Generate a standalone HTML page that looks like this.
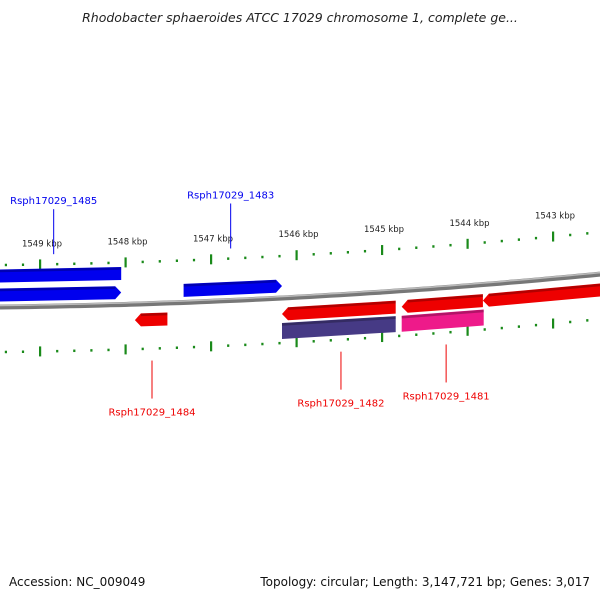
<!DOCTYPE html>
<html><head><meta charset="utf-8"><style>
body{margin:0;background:#fff;width:600px;height:600px;overflow:hidden;font-family:"DejaVu Sans","Liberation Sans",sans-serif}
</style></head><body>
<svg id="c" width="600" height="600" xmlns="http://www.w3.org/2000/svg">
<text x="300" y="22" text-anchor="middle" font-size="12.5" font-style="italic" fill="#222" font-family="DejaVu Sans, sans-serif">Rhodobacter sphaeroides ATCC 17029 chromosome 1, complete ge...</text>
<text x="9" y="586" font-size="12" fill="#111" font-family="DejaVu Sans, sans-serif">Accession: NC_009049</text>
<text x="590" y="586" text-anchor="end" font-size="12" fill="#111" font-family="DejaVu Sans, sans-serif">Topology: circular; Length: 3,147,721 bp; Genes: 3,017</text>
</svg>
<script>
const tickKbp=[1549,1548,1547,1546,1545,1544,1543];
const geneNames=["Rsph17029_1485a","Rsph17029_1485","Rsph17029_1483","Rsph17029_1484","Rsph17029_1482","Rsph17029_1482b","Rsph17029_1481","Rsph17029_1481b","Rsph17029_1480"];
const geneStart=[1549.47,1549.47,1547.32,1547.89,1546.17,1546.17,1544.77,1544.77,1543.82];
const geneEnd=[1548.05,1548.05,1546.17,1547.51,1544.84,1544.84,1543.82,1543.81,1542.00];
const geneStrand=[0,1,1,-1,-1,0,-1,0,-1];
const geneLane=[-31,-12,-12,16,16,33,16,33,16];
const geneColor=["#0000ee","#0000ee","#0000ee","#ee0000","#ee0000","#463a85","#ee0000","#ee1a8a","#ee0000"];
const labels=[["Rsph17029_1485",1548.84,-1,"#0000ee"],["Rsph17029_1483",1546.77,-1,"#0000ee"],["Rsph17029_1484",1547.69,1,"#ee0000"],["Rsph17029_1482",1545.48,1,"#ee0000"],["Rsph17029_1481",1544.25,1,"#ee0000"]];
const svg=document.getElementById('c');const NS="http://www.w3.org/2000/svg";
const X=k=>40+(1549-k)*85.5;
const Y=x=>307-0.01167*x-0.000072*x*x;
function mk(t,a){const e=document.createElementNS(NS,t);for(const k in a)e.setAttribute(k,a[k]);svg.appendChild(e);return e;}
let d="";for(let x=0;x<=600;x+=10)d+=(x?"L":"M")+x+" "+Y(x).toFixed(1);
let bb=mk("path",{d:d,stroke:"#777",fill:"none","stroke-width":5});


let bb2=mk("path",{d:d,stroke:"#bbb",fill:"none","stroke-width":1.5,transform:"translate(0,-1.5)"});


[-42,45].forEach(off=>{
 for(let i=-3;i<=40;i++){
  const k=1549.6-i*0.2;
  const x=X(k);if(x<0||x>600)continue;const y=Y(x)+off;
  const major=Math.abs(k-Math.round(k))<0.01;
  const r=mk("rect",{x:x-1,y:major?y-5:y-1.2,width:2.2,height:major?10:2.5,fill:"#1a8a1a"});
  
  
 }
});
tickKbp.forEach(k=>{const x=X(k);const t=mk("text",{x:x+2,y:Y(x)-60,"text-anchor":"middle","font-size":8.5,fill:"#222"});t.textContent=k+" kbp";
 
 });
geneNames.forEach((n,i)=>{
 const x1=Math.max(-5,X(geneStart[i])),x2=Math.min(605,X(geneEnd[i]));const off=geneLane[i];const h=off>30?16:13;
 const top=x=>Y(x)+off-h/2,bot=x=>Y(x)+off+h/2;const a=6;
 let pts=[];const s=geneStrand[i];
 const L=s<0?x1+a:x1,R=s>0?x2-a:x2;
 pts.push([L,top(L)],[R,top(R)]);
 if(s>0)pts.push([x2,(top(x2)+bot(x2))/2]);
 pts.push([R,bot(R)],[L,bot(L)]);
 if(s<0)pts.push([x1,(top(x1)+bot(x1))/2]);
 const p=mk("polygon",{points:pts.map(q=>q.map(v=>v.toFixed(1)).join(",")).join(" "),fill:geneColor[i]});
 
 
 const hl=mk("line",{x1:L,y1:top(L)+1.5,x2:R,y2:top(R)+1.5,stroke:"rgba(0,0,0,0.25)","stroke-width":2.5});
 
 
});
labels.forEach(([n,k,dir,c])=>{
 const x=X(k);let y0,y1,ty;
 if(dir<0){y0=Y(x)-52;y1=Y(x)-97;ty=Y(x)-102;}else{y0=Y(x)+57;y1=Y(x)+95;ty=Y(x)+112;}
 const l=mk("line",{x1:x,y1:y0,x2:x,y2:y1,stroke:c,"stroke-width":1});
 
 
 const t=mk("text",{x:x,y:ty,"text-anchor":"middle","font-size":10,fill:c});t.textContent=n;
 
 
});
</script>
</body></html>
